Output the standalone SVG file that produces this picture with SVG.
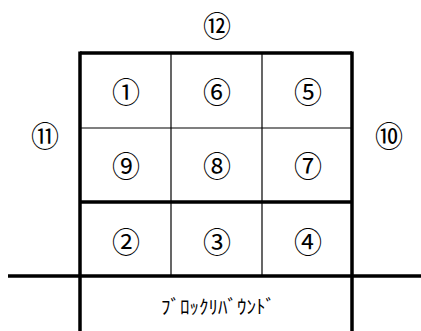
<svg xmlns="http://www.w3.org/2000/svg" width="421" height="331" viewBox="0 0 421 331">
<style>
.thick{stroke:#000;stroke-width:3.5;fill:none}
.thin{stroke:#000;stroke-width:1.2;fill:none}
.num{font-family:"Noto Sans CJK JP","Liberation Sans",sans-serif;font-size:28px;font-weight:normal;fill:#000;text-anchor:middle;dominant-baseline:central}
.lbl{font-family:"Noto Sans CJK JP","Liberation Sans",sans-serif;font-size:19px;font-weight:normal;fill:#000;text-anchor:middle;dominant-baseline:central}
</style>
<rect width="421" height="331" fill="#fff"/>
<g id="connectors">
<line class="thin" x1="171" y1="53" x2="171" y2="276"/>
<line class="thin" x1="262" y1="53" x2="262" y2="276"/>
<line class="thin" x1="80" y1="128" x2="352" y2="128"/>
<line class="thick" x1="80" y1="202" x2="352" y2="202"/>
<line class="thick" x1="80" y1="53" x2="352" y2="53"/>
<line class="thick" x1="80" y1="51.5" x2="80" y2="331"/>
<line class="thick" x1="352" y1="51.5" x2="352" y2="331"/>
<line class="thick" x1="8" y1="276" x2="421" y2="276"/>
</g>
<g id="n12"><text class="num" x="217" y="25">⑫</text></g>
<g id="n11"><text class="num" x="45" y="135">⑪</text></g>
<g id="n10"><text class="num" x="389" y="135">⑩</text></g>
<g id="n1"><text class="num" x="126" y="91">①</text></g>
<g id="n6"><text class="num" x="217" y="91">⑥</text></g>
<g id="n5"><text class="num" x="308" y="91">⑤</text></g>
<g id="n9"><text class="num" x="126" y="165">⑨</text></g>
<g id="n8"><text class="num" x="217" y="165">⑧</text></g>
<g id="n7"><text class="num" x="308" y="165">⑦</text></g>
<g id="n2"><text class="num" x="126" y="241">②</text></g>
<g id="n3"><text class="num" x="217" y="241">③</text></g>
<g id="n4"><text class="num" x="308" y="241">④</text></g>
<g id="boundary"><text class="lbl" x="218" y="305">ﾌﾞﾛｯｸﾘﾊﾞｳﾝﾄﾞ</text></g>
</svg>
